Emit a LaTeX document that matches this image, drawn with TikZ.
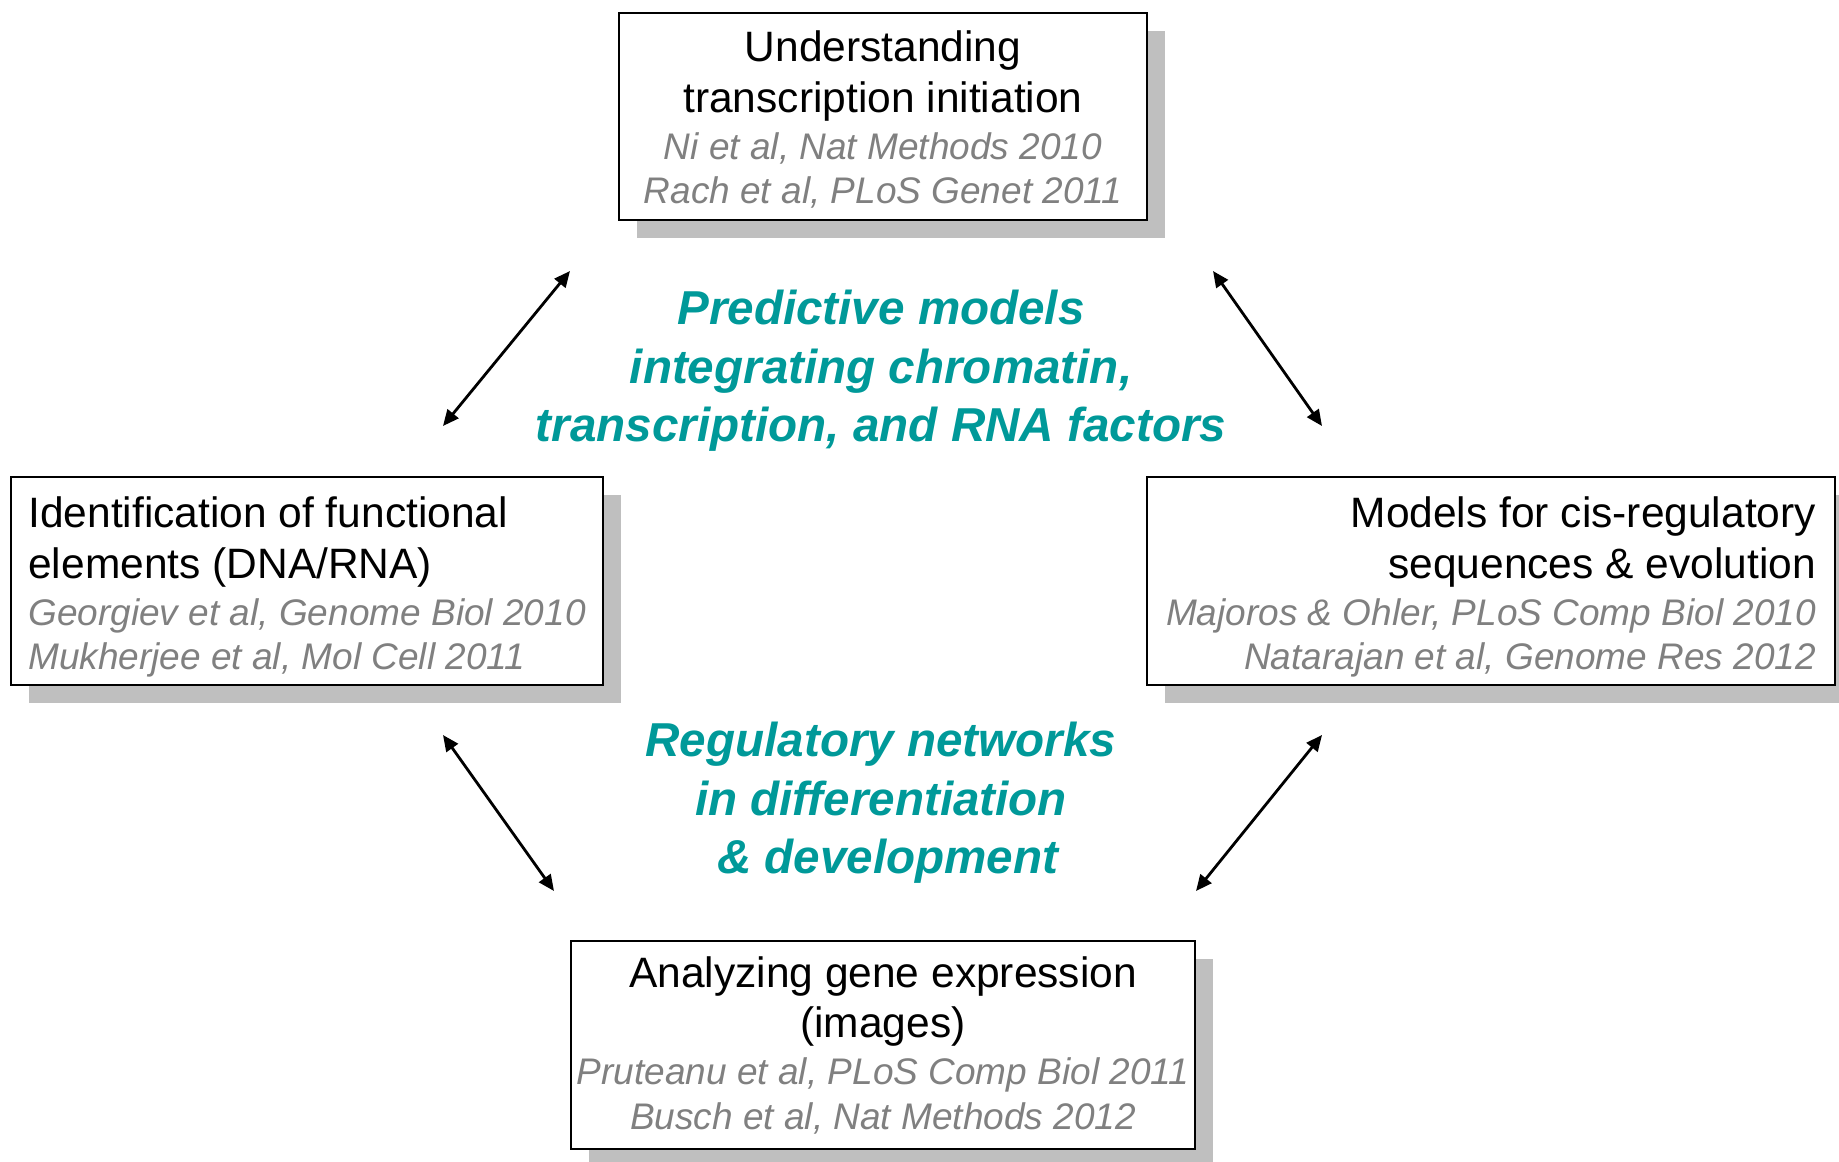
\documentclass[tikz,border=0pt]{standalone}
\usepackage{fontspec}
\setmainfont{Liberation Sans}
\usetikzlibrary{arrows.meta,shadows}
\definecolor{tealtext}{RGB}{0,153,153}
\definecolor{citegray}{RGB}{128,128,128}
\definecolor{shadowgray}{RGB}{191,191,191}
\newcommand{\pubref}[1]{{\color{citegray}\fontsize{18.5}{22.3}\selectfont\itshape #1}}
% optional argument: extra room above the first line
\newcommand{\topictext}[5][0pt]{\rule{0pt}{\dimexpr 15.6pt+#1\relax}#2\\[3pt]#3\\[1.2pt]\pubref{#4}\\\pubref{#5}}

\begin{document}
\begin{tikzpicture}[x=0.5pt, y=-0.5pt,
    topicbox/.style={draw, line width=1.3pt, fill=white, inner sep=0pt, outer sep=0pt,
      drop shadow={shadow xshift=9pt, shadow yshift=-9pt, fill=shadowgray, opacity=1},
      font=\fontsize{21.25}{22.3}\selectfont},
    theme/.style={text=tealtext, align=center, font=\fontsize{23.8}{29.3}\selectfont\bfseries\itshape},
    link/.style={{Triangle[length=8pt,width=7pt]}-{Triangle[length=8pt,width=7pt]}, line width=1.4pt}]
  \useasboundingbox (0,0) rectangle (1839,1161);

  % the four topics
  \node[topicbox, minimum width=264pt, minimum height=103.5pt, align=center] (tsi) at (883,116.5)
    {\topictext[3pt]{Understanding}{transcription initiation}{Ni et al, Nat Methods 2010}{Rach et al, PLoS Genet 2011}};
  \node[topicbox, minimum width=296pt, minimum height=104pt, align=left] (ife) at (307,581)
    {\topictext[6pt]{Identification of functional}{elements (DNA/RNA)}{Georgiev et al, Genome Biol 2010}{Mukherjee et al, Mol Cell 2011}};
  \node[topicbox, minimum width=344pt, minimum height=104pt, align=right] (crm) at (1491,581)
    {\topictext[6pt]{Models for cis-regulatory}{sequences \& evolution}{Majoros \& Ohler, PLoS Comp Biol 2010}{Natarajan et al, Genome Res 2012}};
  \node[topicbox, minimum width=312pt, minimum height=104pt, align=center] (age) at (883,1045)
    {\topictext{Analyzing gene expression}{(images)}{Pruteanu et al, PLoS Comp Biol 2011}{Busch et al, Nat Methods 2012}};

  % themes in the middle
  \node[theme] (pm) at (881,371) {Predictive models\\integrating chromatin,\\transcription, and RNA factors};
  \node[theme] (rn) at (881,803) {Regulatory networks\\in differentiation\\\ \& development};

  % arrow ends
  \coordinate (ife-tsi-a) at (443,426);
  \coordinate (ife-tsi-b) at (570,271);
  \coordinate (tsi-crm-a) at (1213,271);
  \coordinate (tsi-crm-b) at (1322,426);
  \coordinate (ife-age-a) at (443,735);
  \coordinate (ife-age-b) at (554,891);
  \coordinate (crm-age-a) at (1322,735);
  \coordinate (crm-age-b) at (1196,891);

  \draw[link] (ife-tsi-a) -- (ife-tsi-b);
  \draw[link] (tsi-crm-a) -- (tsi-crm-b);
  \draw[link] (ife-age-a) -- (ife-age-b);
  \draw[link] (crm-age-a) -- (crm-age-b);
\end{tikzpicture}
\end{document}
